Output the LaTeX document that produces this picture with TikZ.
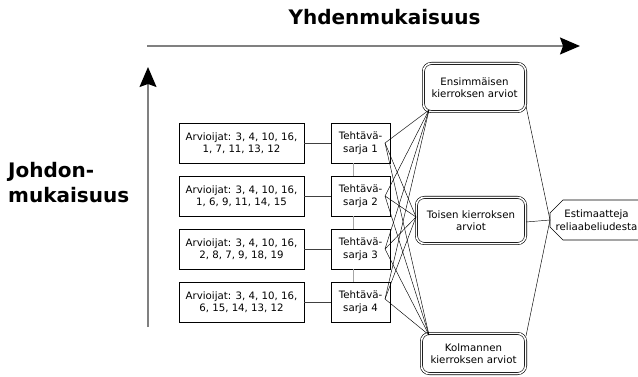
\documentclass[tikz,border=0pt]{standalone}
\usepackage{fontspec}
\setmainfont{DejaVu Sans}
\usetikzlibrary{arrows.meta,calc}

\begin{document}
\begin{tikzpicture}[x=1pt,y=-1pt,
  txt/.style={font=\fontsize{10.2}{12.5}\selectfont, align=center, inner sep=0pt},
  raters/.style={txt, draw, line width=0.7pt, minimum width=125pt, minimum height=40pt},
  setbox/.style={txt, draw, line width=0.7pt, minimum width=59pt, minimum height=40pt},
  stagebox/.style={txt, draw, double, double distance=1.6pt, line width=0.6pt, rounded corners=8pt},
  link/.style={draw=black!75, line width=0.6pt},
  chainline/.style={draw=black!35, line width=0.6pt},
  fan/.style={line width=0.45pt},
  axis/.style={draw=black!50, line width=1.4pt, -{Stealth[length=20pt,width=17pt,inset=3pt,color=black]}},
  heading/.style={font=\fontsize{20}{25}\selectfont\bfseries, inner sep=0pt}
]
\useasboundingbox (0,0) rectangle (638,377);

% axes and their headings
\coordinate (hx0) at (147,46);
\coordinate (hx1) at (580,46);
\coordinate (vy0) at (148,327);
\coordinate (vy1) at (148,67);
\draw[axis] (hx0) -- (hx1);
\draw[axis] (vy0) -- (vy1);
\node[heading, anchor=base] (ytitle) at (384.5,25) {Yhdenmukaisuus};
\node[heading, anchor=west, align=left] (jtitle) at (8,183) {Johdon-\\mukaisuus};

% rater groups
\node[raters] (r1) at (241.5,143) {Arvioijat: 3, 4, 10, 16,\\1, 7, 11, 13, 12};
\node[raters] (r2) at (241.5,196) {Arvioijat: 3, 4, 10, 16,\\1, 6, 9, 11, 14, 15};
\node[raters] (r3) at (241.5,249) {Arvioijat: 3, 4, 10, 16,\\2, 8, 7, 9, 18, 19};
\node[raters] (r4) at (241.5,302) {Arvioijat: 3, 4, 10, 16,\\6, 15, 14, 13, 12};

% task sets
\node[setbox] (s1) at (360.5,143) {Tehtävä-\\sarja 1};
\node[setbox] (s2) at (360.5,196) {Tehtävä-\\sarja 2};
\node[setbox] (s3) at (360.5,249) {Tehtävä-\\sarja 3};
\node[setbox] (s4) at (360.5,302) {Tehtävä-\\sarja 4};

\foreach \i in {1,...,4} {
  \draw[link] (r\i.east) -- (s\i.west);
}
\foreach \i/\j in {1/2,2/3,3/4} {
  \draw[chainline] ([xshift=-7.5pt]s\i.south) -- ([xshift=-7.5pt]s\j.north);
}

% rating rounds
\node[stagebox, minimum width=102.2pt, minimum height=48.2pt] (ens) at (474.5,87.5) {Ensimmäisen\\kierroksen arviot};
\node[stagebox, minimum width=109.2pt, minimum height=46.2pt] (toi) at (471,220.5) {Toisen kierroksen\\arviot};
\node[stagebox, minimum width=104.2pt, minimum height=40.2pt] (kol) at (473.5,353.5) {Kolmannen\\kierroksen arviot};

% reliability estimates
\draw[line width=0.7pt] (563,200) -- (550,213) -- (550,227) -- (563,240) -- (660,240) -- (660,200) -- cycle;
\node[txt] (est) at (596.5,220) {Estimaatteja\\reliaabeliudesta};
\coordinate (estL) at (550,220);

% fan-out from each task set to the three rounds
\coordinate (o1) at (385,143);
\coordinate (o2) at (385,196);
\coordinate (o3) at (385,249);
\coordinate (o4) at (385,299);
\coordinate (ein) at (429,110);
\coordinate (tin) at (416,217);
\coordinate (kin) at (429,335);
\foreach \i in {1,...,4} {
  \draw[fan] (o\i) -- (ein);
  \draw[fan] (o\i) -- (tin);
  \draw[fan] (o\i) -- (kin);
}

% rounds to the estimates
\coordinate (eout) at (526,106);
\coordinate (tout) at (526,222);
\coordinate (kout) at (526,336);
\draw[fan] (eout) -- (estL);
\draw[fan] (tout) -- (estL);
\draw[fan] (kout) -- (estL);
\end{tikzpicture}
\end{document}
